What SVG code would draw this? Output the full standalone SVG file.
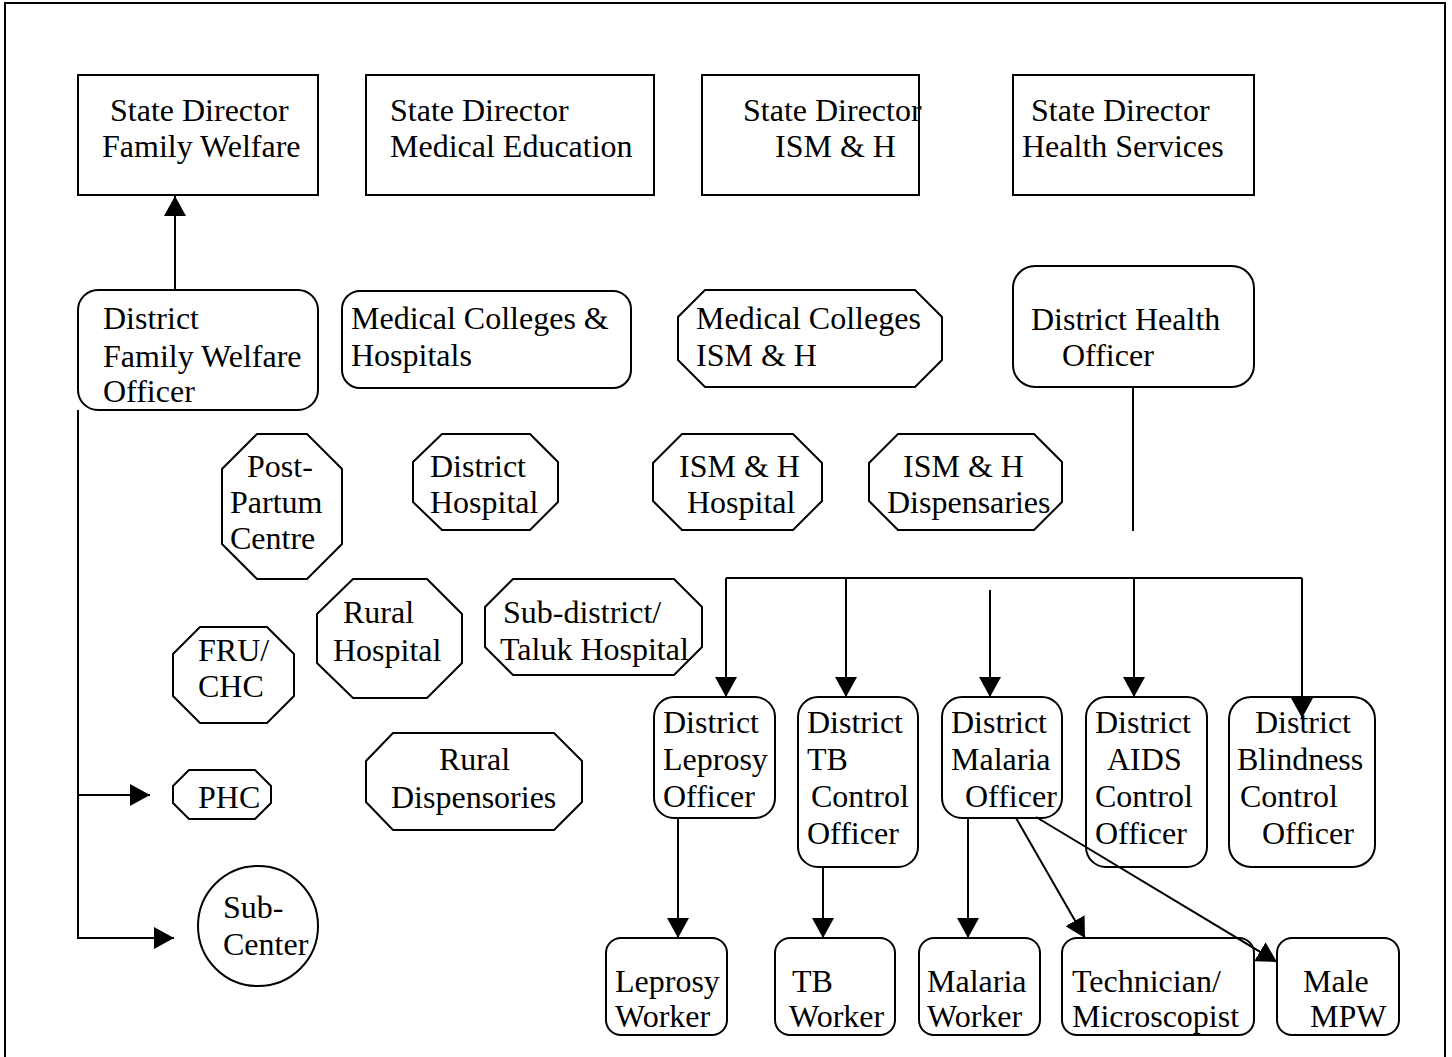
<svg xmlns="http://www.w3.org/2000/svg" width="1452" height="1057" viewBox="0 0 1452 1057">
<defs>
<style>
.s{fill:#fff;stroke:#000;stroke-width:2}
.c{fill:none;stroke:#000;stroke-width:2}
text{font-family:"Liberation Serif","Times New Roman",serif;font-size:32px;fill:#000}
</style>
<marker id="ah" viewBox="0 0 20 22" refX="20" refY="11" markerWidth="20" markerHeight="22" orient="auto" markerUnits="userSpaceOnUse"><path d="M0,0 L20,11 L0,22 z" fill="#000"/></marker>
</defs>
<rect x="0" y="0" width="1452" height="1057" fill="#fff"/>
<rect x="5" y="3" width="1440" height="1070" fill="none" stroke="#000" stroke-width="2"/>

<g id="sd-fw"><rect class="s" x="78" y="75" width="240" height="120"/><text x="110" y="121">State Director</text><text x="102" y="157">Family Welfare</text></g>
<g id="sd-me"><rect class="s" x="366" y="75" width="288" height="120"/><text x="390" y="121">State Director</text><text x="390" y="157">Medical Education</text></g>
<g id="sd-ism"><rect class="s" x="702" y="75" width="217" height="120"/><text x="743" y="121">State Director</text><text x="775" y="157">ISM &amp; H</text></g>
<g id="sd-hs"><rect class="s" x="1013" y="75" width="241" height="120"/><text x="1031" y="121">State Director</text><text x="1022" y="157">Health Services</text></g>

<g id="dfwo"><rect class="s" x="78" y="290" width="240" height="120" rx="20"/><text x="103" y="329">District</text><text x="103" y="367">Family Welfare</text><text x="103" y="402">Officer</text></g>
<g id="mch"><rect class="s" x="342" y="291" width="289" height="97" rx="18"/><text x="351" y="329">Medical Colleges &amp;</text><text x="351" y="366">Hospitals</text></g>
<g id="mc-ism"><polygon class="s" points="705,290 915,290 942,317 942,360 915,387 705,387 678,360 678,317"/><text x="696" y="329">Medical Colleges</text><text x="696" y="366">ISM &amp; H</text></g>
<g id="dho"><rect class="s" x="1013" y="266" width="241" height="121" rx="22"/><text x="1031" y="330">District Health</text><text x="1062" y="366">Officer</text></g>

<g id="ppc"><polygon class="s" points="257,434 307,434 342,469 342,544 307,579 257,579 222,544 222,469"/><text x="247" y="477">Post-</text><text x="230" y="513">Partum</text><text x="230" y="549">Centre</text></g>
<g id="dh"><polygon class="s" points="442,434 530,434 558,462 558,502 530,530 442,530 413,502 413,462"/><text x="430" y="477">District</text><text x="430" y="513">Hospital</text></g>
<g id="ismh"><polygon class="s" points="682,434 793,434 822,463 822,501 793,530 682,530 653,501 653,463"/><text x="679" y="477">ISM &amp; H</text><text x="687" y="513">Hospital</text></g>
<g id="ismd"><polygon class="s" points="898,434 1034,434 1062,462 1062,502 1034,530 898,530 869,501 869,463"/><text x="903" y="477">ISM &amp; H</text><text x="887" y="513">Dispensaries</text></g>

<g id="rh"><polygon class="s" points="353,579 427,579 462,614 462,663 427,698 353,698 317,663 317,614"/><text x="343" y="623">Rural</text><text x="333" y="661">Hospital</text></g>
<g id="sdth"><polygon class="s" points="513,579 674,579 702,607 702,647 674,675 513,675 485,647 485,607"/><text x="503" y="623">Sub-district/</text><text x="500" y="660">Taluk Hospital</text></g>
<g id="fru"><polygon class="s" points="200,627 267,627 294,654 294,696 267,723 200,723 173,696 173,654"/><text x="198" y="661">FRU/</text><text x="198" y="697">CHC</text></g>
<g id="phc"><polygon class="s" points="189,770 255,770 271,786 271,803 255,819 189,819 173,803 173,786"/><text x="198" y="808">PHC</text></g>
<g id="rd"><polygon class="s" points="393,733 554,733 582,761 582,802 554,830 393,830 366,802 366,761"/><text x="439" y="770">Rural</text><text x="391" y="808">Dispensories</text></g>
<g id="sc"><ellipse class="s" cx="258" cy="926" rx="60" ry="60"/><text x="223" y="918">Sub-</text><text x="223" y="955">Center</text></g>

<g id="dlo"><rect class="s" x="654" y="697" width="121" height="121" rx="20"/><text x="663" y="733">District</text><text x="663" y="770">Leprosy</text><text x="663" y="807">Officer</text></g>
<g id="dtbo"><rect class="s" x="798" y="697" width="120" height="170" rx="20"/><text x="807" y="733">District</text><text x="807" y="770">TB</text><text x="811" y="807">Control</text><text x="807" y="844">Officer</text></g>
<g id="dmo"><rect class="s" x="942" y="697" width="120" height="121" rx="20"/><text x="951" y="733">District</text><text x="951" y="770">Malaria</text><text x="965" y="807">Officer</text></g>
<g id="daco"><rect class="s" x="1086" y="697" width="121" height="170" rx="20"/><text x="1095" y="733">District</text><text x="1107" y="770">AIDS</text><text x="1095" y="807">Control</text><text x="1095" y="844">Officer</text></g>
<g id="dbco"><rect class="s" x="1229" y="697" width="146" height="170" rx="22"/><text x="1255" y="733">District</text><text x="1237" y="770">Blindness</text><text x="1240" y="807">Control</text><text x="1262" y="844">Officer</text></g>

<g id="lw"><rect class="s" x="606" y="938" width="121" height="97" rx="15"/><text x="615" y="992">Leprosy</text><text x="615" y="1027">Worker</text></g>
<g id="tbw"><rect class="s" x="775" y="938" width="120" height="97" rx="15"/><text x="792" y="992">TB</text><text x="789" y="1027">Worker</text></g>
<g id="mw"><rect class="s" x="919" y="938" width="121" height="97" rx="15"/><text x="927" y="992">Malaria</text><text x="927" y="1027">Worker</text></g>
<g id="tm"><rect class="s" x="1062" y="938" width="192" height="97" rx="15"/><text x="1072" y="992">Technician/</text><text x="1072" y="1027">Microscopist</text></g>
<g id="mmpw"><rect class="s" x="1277" y="938" width="122" height="97" rx="15"/><text x="1303" y="992">Male</text><text x="1310" y="1027">MPW</text></g>

<g id="connectors">
<line class="c" x1="175" y1="290" x2="175" y2="196" marker-end="url(#ah)"/>
<polyline class="c" points="78,410 78,938 174,938" marker-end="url(#ah)"/>
<line class="c" x1="78" y1="795" x2="150" y2="795" marker-end="url(#ah)"/>
<line class="c" x1="1133" y1="387" x2="1133" y2="531"/>
<line class="c" x1="726" y1="578" x2="1302" y2="578"/>
<line class="c" x1="726" y1="578" x2="726" y2="697" marker-end="url(#ah)"/>
<line class="c" x1="846" y1="578" x2="846" y2="697" marker-end="url(#ah)"/>
<line class="c" x1="990" y1="590" x2="990" y2="697" marker-end="url(#ah)"/>
<line class="c" x1="1134" y1="578" x2="1134" y2="697" marker-end="url(#ah)"/>
<line class="c" x1="1302" y1="578" x2="1302" y2="718" marker-end="url(#ah)"/>
<line class="c" x1="678" y1="818" x2="678" y2="938" marker-end="url(#ah)"/>
<line class="c" x1="823" y1="867" x2="823" y2="938" marker-end="url(#ah)"/>
<line class="c" x1="968" y1="818" x2="968" y2="938" marker-end="url(#ah)"/>
<line class="c" x1="1016" y1="818" x2="1085" y2="938" marker-end="url(#ah)"/>
<line class="c" x1="1036" y1="817" x2="1277" y2="962" marker-end="url(#ah)"/>
</g>
</svg>
